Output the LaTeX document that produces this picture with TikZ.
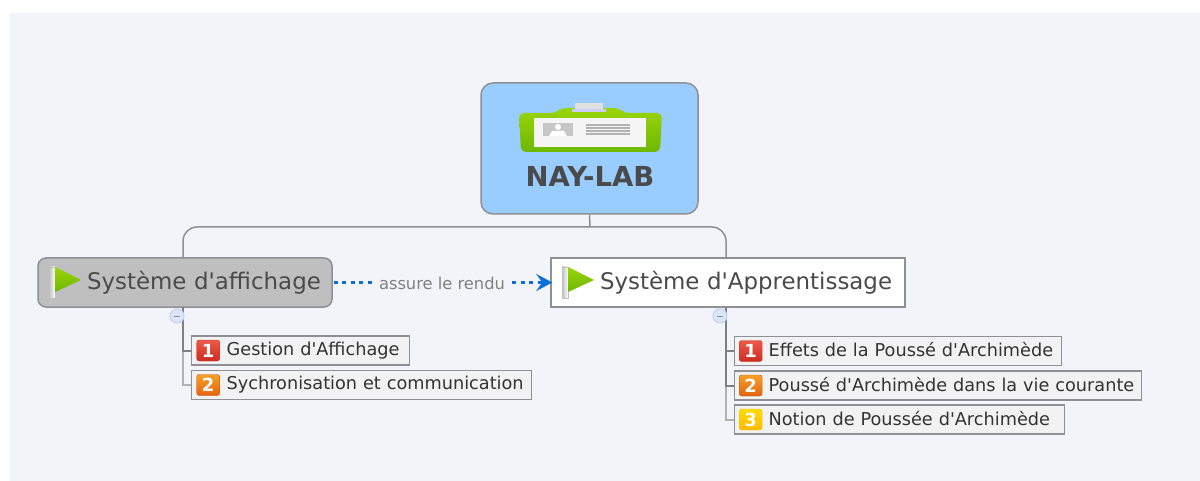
\documentclass[tikz,border=0pt]{standalone}
\usepackage{fontspec}
\newfontfamily\mapfont{DejaVu Sans}
\usetikzlibrary{positioning, arrows.meta}

\definecolor{panelbg}{HTML}{F2F4FA}
\definecolor{rootblue}{HTML}{99CCFF}
\definecolor{inkgray}{HTML}{4A4A4A}
\definecolor{edgegray}{HTML}{8E9095}
\definecolor{linkblue}{HTML}{0B6FD8}
\definecolor{limetop}{HTML}{9AD40A}
\definecolor{limelow}{HTML}{6DB800}
\definecolor{minusfill}{HTML}{DCE6FA}
\definecolor{minusedge}{HTML}{BFD2F5}

\tikzset{
  every node/.style={font=\mapfont},
  rootbox/.style={draw=edgegray, line width=1.5pt, fill=rootblue, rounded corners=12pt, minimum width=217pt, minimum height=131pt, inner sep=0pt},
  mainbox/.style={draw=edgegray, line width=1.5pt, minimum height=49pt, inner sep=0pt, text=inkgray, font=\mapfont\fontsize{22.9}{26}\selectfont},
  childbox/.style={draw=edgegray, line width=1.3pt, fill=black!5, minimum height=29pt, inner sep=0pt, text height=13pt, text depth=4pt, text=black!80, font=\mapfont\fontsize{17.7}{20}\selectfont},
  childlow/.style={childbox, text depth=1.5pt},
  branch/.style={draw=edgegray, line width=1.5pt, rounded corners=14pt},
  twig/.style={draw=black!50, line width=2pt},
  twiglight/.style={draw=black!30, line width=2pt},
  minusbtn/.style={circle, draw=minusedge, fill=minusfill, line width=1pt, minimum size=14pt, inner sep=0pt, text=black!45},
  prio/.style={rounded corners=2.5pt, minimum width=23pt, minimum height=21pt, inner sep=0pt, text=white, font=\mapfont\bfseries\fontsize{18}{19}\selectfont},
  prioone/.style={prio, draw={rgb,255:red,190;green,50;blue,40}, top color={rgb,255:red,236;green,90;blue,70}, bottom color={rgb,255:red,205;green,45;blue,35}},
  priotwo/.style={prio, draw={rgb,255:red,200;green,80;blue,20}, top color={rgb,255:red,248;green,160;blue,40}, bottom color={rgb,255:red,226;green,100;blue,15}},
  priothree/.style={prio, draw={rgb,255:red,245;green,190;blue,10}, top color={rgb,255:red,255;green,220;blue,10}, bottom color={rgb,255:red,255;green,185;blue,0}},
  flagicon/.pic={
    \shade[left color=black!25, right color=white] (0,0) rectangle (6,31);
    \draw[black!25, line width=.5pt] (0,0) rectangle (6,31);
    \shade[top color=limetop, bottom color=limelow] (6,0) -- (32,13) -- (6,25) -- cycle;
  }
}

\begin{document}
\begin{tikzpicture}[x=1pt, y=-1pt, >=Stealth]

\useasboundingbox (0,0) rectangle (1200,481);
\fill[panelbg] (10,13) rectangle (1200,481);

% central topic
\node[rootbox] (root) at (589.5,148.5) {};
\node[inkgray, font=\mapfont\bfseries\fontsize{27.5}{30}\selectfont] (rootname) at (590,176) {NAY-LAB};

% id card
\shade[top color=limetop, bottom color=limelow, rounded corners=5pt] (519,113) -- (556,113) -- (561,108) -- (619,108) -- (624,113) -- (662,113) -- (660,152) -- (521,152) -- cycle;
\fill[black!12] (575,103) rectangle (603,111);
\fill[white!80!blue] (572,109) rectangle (606,112);
\fill[black!4] (534,118) rectangle (646,147);
\fill[black!22] (543,123) rectangle (573,136);
\fill[white] (558,127) circle (3pt);
\fill[white] (549,136) -- (552,131) -- (564,131) -- (567,136) -- cycle;
\foreach \liney in {125,128,131,134}
  \draw[black!30, line width=1.5pt] (586,\liney) -- (630,\liney);

% main topics
\node[mainbox, rounded corners=8pt, fill=black!25, minimum width=294pt, text width=294pt] (affichage) at (185,282.5) {\hspace*{49pt}Système d'affichage};
\node[mainbox, fill=white, minimum width=354pt, text width=354pt] (apprentissage) at (728,282.5) {\hspace*{49pt}Système d'Apprentissage};
\pic at (49,267) {flagicon};
\pic at (562,267) {flagicon};

\coordinate (busleft) at (183,258);
\coordinate (busright) at (726,258);
\coordinate (bustop) at (590,227);

\draw[branch] (busleft) |- (bustop) -| (busright);
\draw[draw=edgegray, line width=1.5pt] (root.south) -- (bustop);

% relation
\draw[-{Stealth[length=16pt, width=17pt, inset=6pt]}, linkblue, line width=3.5pt, dash pattern=on 4pt off 4.5pt] ([xshift=1pt]affichage.east) -- ([xshift=2pt]apprentissage.west);
\node[fill=panelbg, text=black!50, inner xsep=6pt, inner ysep=1pt, font=\mapfont\fontsize{16.3}{18}\selectfont] (rendu) at (442,283) {assure le rendu};

% subtopics left
\node[childbox, anchor=west, minimum width=218pt, text width=218pt] (gestion) at (191,350.5) {\hspace*{35pt}Gestion d'Affichage};
\node[childbox, anchor=west, minimum width=340pt, text width=340pt] (sychro) at (191,385) {\hspace*{35pt}Sychronisation et communication};
\node[prioone, right=5.5pt of gestion.west] (gestionprio) {1};
\node[priotwo, right=5.5pt of sychro.west] (sychroprio) {2};

\coordinate (twigleft) at (183,307);
\draw[twiglight] (twigleft) |- (sychro.west);
\draw[twig] (twigleft) |- (gestion.west);
\node[minusbtn] (minusleft) at (177,316) {\rule{6pt}{1pt}};

% subtopics right
\node[childlow, anchor=west, minimum width=327pt, text width=327pt] (effets) at (734,351) {\hspace*{34pt}Effets de la Poussé d'Archimède};
\node[childlow, anchor=west, minimum width=407pt, text width=407pt] (pousse) at (734,385.5) {\hspace*{34pt}Poussé d'Archimède dans la vie courante};
\node[childlow, anchor=west, minimum width=330pt, text width=330pt] (notion) at (734,419.5) {\hspace*{34pt}Notion de Poussée d'Archimède};
\node[prioone, right=5pt of effets.west] (effetsprio) {1};
\node[priotwo, right=5pt of pousse.west] (pousseprio) {2};
\node[priothree, right=5pt of notion.west] (notionprio) {3};

\coordinate (twigright) at (726,307);
\draw[twiglight] (twigright) |- (notion.west);
\draw[twig] (twigright) |- (pousse.west);
\draw[twig] (twigright) |- (effets.west);
\node[minusbtn] (minusright) at (720,316) {\rule{6pt}{1pt}};

\end{tikzpicture}
\end{document}
